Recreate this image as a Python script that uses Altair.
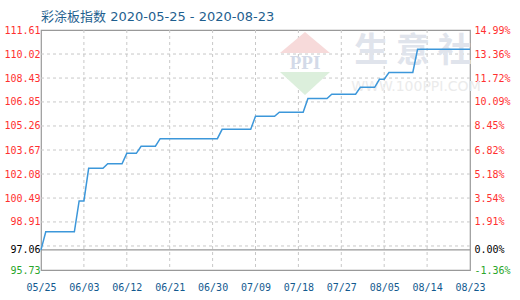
import json
import altair as alt
import pandas as pd

title_text = "彩涂板指数 2020-05-25 - 2020-08-23"
start_date = "2020-05-25"

# daily index values 05/25 .. 08/23
values = [97.06,
          98.26, 98.26, 98.26, 98.26, 98.26, 98.26, 98.26,
          100.30, 100.30,
          102.46, 102.46, 102.46, 102.46,
          102.76, 102.76, 102.76, 102.76,
          103.45, 103.45, 103.45,
          103.92, 103.92, 103.92, 103.92,
          104.42, 104.42, 104.42, 104.42, 104.42, 104.42, 104.42,
          104.42, 104.42, 104.42, 104.42, 104.42, 104.42,
          105.04, 105.04, 105.04, 105.04, 105.04, 105.04, 105.04,
          105.90, 105.90, 105.90, 105.90, 105.90,
          106.17, 106.17, 106.17, 106.17, 106.17, 106.17,
          107.07, 107.07, 107.07, 107.07, 107.07,
          107.36, 107.36, 107.36, 107.36, 107.36, 107.36,
          107.82, 107.82, 107.82, 107.82,
          108.35, 108.35,
          108.80, 108.80, 108.80, 108.80, 108.80, 108.80,
          110.33, 110.33, 110.33, 110.33, 110.33, 110.33,
          110.33, 110.33, 110.33, 110.33, 110.33, 110.33]

x_tick_days = [0, 9, 18, 27, 36, 45, 54, 63, 72, 81, 90]
x_tick_labels = ["05/25", "06/03", "06/12", "06/21", "06/30", "07/09",
                 "07/18", "07/27", "08/05", "08/14", "08/23"]

y_ticks = [95.73, 97.06, 98.91, 100.49, 102.08, 103.67, 105.26,
           106.85, 108.43, 110.02, 111.61]
pct_labels = ["-1.36%", "0.00%", "1.91%", "3.54%", "5.18%", "6.82%",
              "8.45%", "10.09%", "11.72%", "13.36%", "14.99%"]
y_grid = [97.32, 98.91, 100.49, 102.08, 103.67, 105.26, 106.85, 108.43, 110.02]
base_value = 97.06
y_min, y_max = 95.73, 111.61

df = pd.DataFrame({
    "day": list(range(len(values))),
    "value": values,
    "date": pd.date_range(start_date, periods=len(values)).strftime("%Y-%m-%d"),
})
grid_df = pd.DataFrame({"g": y_grid})
vgrid_df = pd.DataFrame({"d": x_tick_days[1:-1]})
base_df = pd.DataFrame({"b": [base_value]})
tick_df = pd.DataFrame({"t": y_ticks})
one = pd.DataFrame({"k": [0]})

xscale = alt.Scale(domain=[0, 90], nice=False, zero=False)
yscale = alt.Scale(domain=[y_min, y_max], nice=False, zero=False)

label_font = "DejaVu Sans Mono"
color_expr = ("datum.value < 97 ? '#2aa62a' : "
              "(datum.value < 97.1 ? '#000000' : '#ff3030')")

x_label_expr = json.dumps(x_tick_labels) + "[indexof(" + json.dumps(x_tick_days) + ", datum.value)]"
x_axis = alt.Axis(orient="bottom", values=x_tick_days, grid=False, ticks=False, domain=False,
                  labelExpr=x_label_expr, labelFont=label_font, labelFontSize=10,
                  labelColor="#135a8f", labelPadding=12, labelFlush=False,
                  labelOverlap=False, title=None)

hgrid = alt.Chart(grid_df).mark_rule(color="#c8c8c8", strokeDash=[3, 3], strokeWidth=1).encode(
    y=alt.Y("g:Q", scale=yscale, axis=None)
)
vgrid = alt.Chart(vgrid_df).mark_rule(color="#c8c8c8", strokeDash=[3, 3], strokeWidth=1).encode(
    x=alt.X("d:Q", scale=xscale, axis=x_axis)
)
baseline = alt.Chart(base_df).mark_rule(color="#999999", strokeWidth=1.2).encode(
    y=alt.Y("b:Q", scale=yscale, axis=None)
)

# watermark
wm_tri_top = alt.Chart(one).mark_point(
    shape="M-1,0.42L1,0.42L0,-0.42Z", filled=True, color="#f7dada", opacity=1, size=2500
).encode(x=alt.value(264), y=alt.value(12.5))
wm_ppi = alt.Chart(one).mark_text(
    text="PPI", font="Liberation Serif", fontWeight="bold", fontSize=19, color="#d3dae8"
).encode(x=alt.value(264), y=alt.value(33))
wm_tri_bot = alt.Chart(one).mark_point(
    shape="M-1,-0.46L1,-0.46L0,0.46Z", filled=True, color="#dcefdc", opacity=1, size=2500
).encode(x=alt.value(264), y=alt.value(53.5))
wm_cn = alt.Chart(one).mark_text(
    text="生 意 社", font="Noto Sans CJK SC", fontWeight="bold", fontSize=34, color="#e0e4ec"
).encode(x=alt.value(372), y=alt.value(22))
wm_url = alt.Chart(one).mark_text(
    text="WWW.100PPI.COM", font="DejaVu Sans", fontSize=14, color="#ebebeb"
).encode(x=alt.value(375), y=alt.value(57))

line = alt.Chart(df).mark_line(color="#3c97da", strokeWidth=1.5).encode(
    x=alt.X("day:Q", scale=xscale, axis=x_axis),
    y=alt.Y("value:Q", scale=yscale,
            axis=alt.Axis(orient="left", values=y_ticks, grid=False, ticks=False, domain=False,
                          format=".2f", labelFont=label_font, labelFontSize=10,
                          labelColor={"expr": color_expr}, labelPadding=1,
                          labelFlush=False, labelOverlap=False, title=None)),
)

right = alt.Chart(tick_df).mark_rule(opacity=0).encode(
    y=alt.Y("t:Q", scale=yscale,
            axis=alt.Axis(orient="right", values=y_ticks, grid=False, ticks=False, domain=False,
                          labelExpr=json.dumps(pct_labels) + "[indexof(" + json.dumps(y_ticks) + ", datum.value)]",
                          labelFont=label_font, labelFontSize=10,
                          labelColor={"expr": color_expr}, labelPadding=4,
                          labelFlush=False, labelOverlap=False, title=None)),
)

chart = alt.layer(
    hgrid, vgrid, wm_tri_top, wm_ppi, wm_tri_bot, wm_cn, wm_url, baseline, line, right
).resolve_axis(y="independent").properties(
    width=429, height=240,
    autosize=alt.AutoSizeParams(type="none"),
    padding={"left": 41, "top": 30, "right": 50, "bottom": 30},
    title=alt.TitleParams(title_text, anchor="start", frame="group",
                          font="DejaVu Sans, Noto Sans CJK SC",
                          fontSize=13, fontWeight="normal", color="#1f5f8f", offset=1),
    background="white",
).configure_view(stroke="#999999", strokeWidth=1.2)

chart.save("out.html", embed_options={"renderer": "svg", "actions": False})
